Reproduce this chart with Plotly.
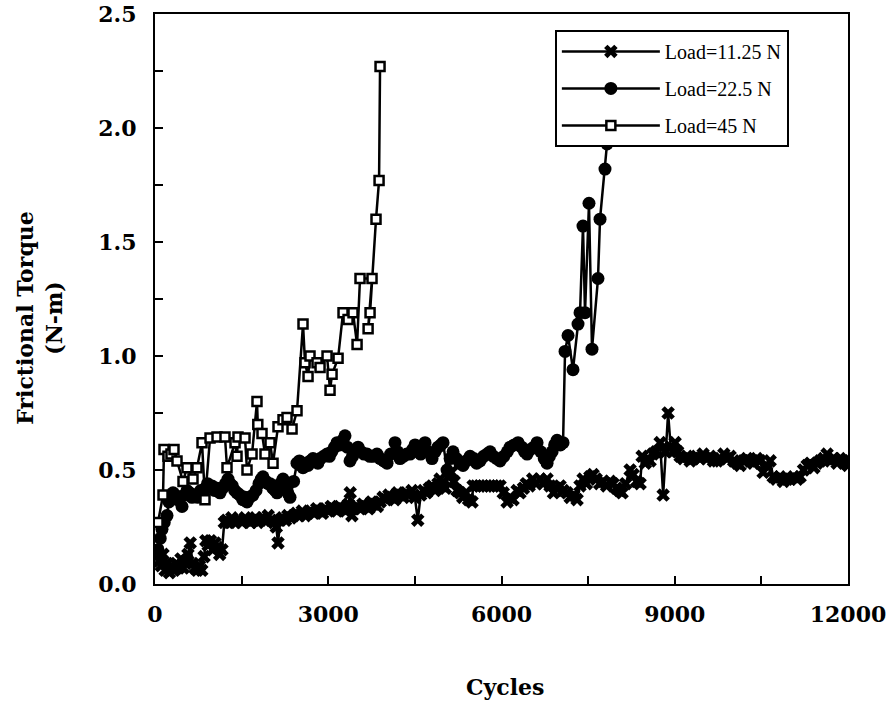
import plotly.graph_objects as go

# ---- data ----
cyc_1125 = [35, 70, 105, 139, 175, 210, 250, 290, 330, 370, 410, 450, 490, 530, 570, 610, 650, 690, 730,
            770, 810, 850, 880, 920, 960, 1000, 1040, 1080, 1120, 1160, 1200,
            1240, 1290, 1330, 1380, 1420, 1470, 1510, 1560, 1600, 1650, 1690, 1740, 1780, 1830, 1870,
            1920, 1960, 2010, 2060, 2100, 2130, 2170,
            2210, 2260, 2300, 2350, 2400, 2450, 2500, 2550, 2600, 2650, 2700, 2750, 2800, 2850, 2900,
            2950, 3000, 3050, 3100, 3150, 3200, 3250, 3300, 3350, 3380, 3410, 3450, 3500,
            3550, 3600, 3650, 3700, 3750, 3800, 3850, 3900, 3950, 4000, 4050, 4100, 4150, 4200, 4250,
            4300, 4350, 4400, 4450, 4500, 4550, 4600,
            4650, 4700, 4750, 4800, 4850, 4900, 4936, 4980, 5030, 5080, 5130, 5180, 5230, 5283, 5330,
            5380, 5430, 5490, 5508, 5560, 5620, 5680, 5740, 5800, 5860, 5920, 5975, 6030, 6097, 6150,
            6200, 6270, 6320, 6380, 6430, 6480, 6540, 6600, 6668, 6720, 6789, 6840, 6900, 6950, 7014,
            7070, 7135, 7190, 7250, 7309, 7360, 7413, 7470, 7530, 7586, 7640, 7700, 7759, 7820, 7880,
            7932, 7990, 8040, 8088, 8150, 8227, 8280, 8340, 8400, 8435, 8490, 8530, 8573, 8620, 8680,
            8747, 8799, 8840, 8885, 8930, 8970, 9006, 9050, 9093, 9150, 9210, 9266, 9320, 9380, 9440,
            9491, 9550, 9610, 9670, 9734, 9790, 9850, 9900, 9959, 10020, 10080, 10132, 10190, 10250,
            10305, 10360, 10420, 10478, 10530, 10590, 10652, 10704, 10760, 10820, 10880, 10946, 11000,
            11060, 11120, 11171, 11230, 11292, 11350, 11410, 11460, 11517, 11580, 11638, 11700, 11760,
            11811, 11860, 11915, 11960, 12000]
tq_1125 = [0.15, 0.10, 0.08, 0.13, 0.06, 0.09, 0.05, 0.08, 0.06, 0.09, 0.07, 0.11, 0.07, 0.10, 0.13, 0.18,
           0.09, 0.07, 0.06, 0.08, 0.06, 0.12, 0.19, 0.17, 0.19, 0.15, 0.18, 0.16, 0.13, 0.15, 0.27,
           0.28, 0.27, 0.29, 0.27, 0.28, 0.28, 0.27, 0.29, 0.28, 0.27, 0.28, 0.29, 0.27, 0.28, 0.29,
           0.28, 0.30, 0.28, 0.27, 0.25, 0.18, 0.28,
           0.29, 0.28, 0.30, 0.29, 0.30, 0.31, 0.30, 0.32, 0.30, 0.31, 0.32, 0.31, 0.33, 0.32, 0.31,
           0.33, 0.32, 0.34, 0.33, 0.32, 0.34, 0.33, 0.32, 0.35, 0.40, 0.30, 0.33, 0.34,
           0.33, 0.35, 0.34, 0.33, 0.36, 0.35, 0.34, 0.36, 0.38, 0.37, 0.39, 0.38, 0.37, 0.40, 0.39,
           0.38, 0.40, 0.39, 0.41, 0.38, 0.28, 0.39,
           0.41, 0.40, 0.42, 0.43, 0.41, 0.44, 0.46, 0.43, 0.42, 0.47, 0.49, 0.45, 0.41, 0.40, 0.38,
           0.40, 0.37, 0.36, 0.43, 0.43, 0.43, 0.43, 0.43, 0.43, 0.43, 0.43, 0.43, 0.40, 0.36, 0.38,
           0.37, 0.41, 0.40, 0.42, 0.44, 0.43, 0.46, 0.44, 0.46, 0.44, 0.46, 0.43, 0.40, 0.42, 0.43,
           0.41, 0.40, 0.38, 0.39, 0.37, 0.43, 0.46, 0.44, 0.47, 0.48, 0.46, 0.44, 0.45, 0.43, 0.45,
           0.44, 0.42, 0.41, 0.40, 0.44, 0.50, 0.48, 0.45, 0.44, 0.56, 0.53, 0.55, 0.54, 0.57, 0.58,
           0.62, 0.39, 0.58, 0.75, 0.60, 0.58, 0.62, 0.58, 0.56, 0.55, 0.56, 0.54, 0.55, 0.56, 0.55,
           0.57, 0.55, 0.56, 0.54, 0.54, 0.55, 0.57, 0.55, 0.56, 0.54, 0.53, 0.52, 0.54, 0.55,
           0.54, 0.53, 0.55, 0.54, 0.49, 0.52, 0.54, 0.47, 0.46, 0.47, 0.45, 0.46, 0.46,
           0.47, 0.46, 0.47, 0.50, 0.52, 0.53, 0.51, 0.53, 0.54, 0.55, 0.57, 0.54, 0.55,
           0.53, 0.55, 0.54, 0.53, 0.52]

cyc_225 = [52, 90, 121, 160, 208, 240, 270, 312, 350, 390, 430, 468, 510, 554, 600, 640, 690, 740, 790,
           831, 870, 910, 950, 987, 1030, 1080, 1126, 1170, 1220, 1264, 1300, 1340, 1380, 1420, 1470,
           1520, 1560, 1593, 1640, 1697, 1750, 1800, 1840, 1870, 1920, 1960, 1992, 2040, 2080, 2113,
           2170, 2217, 2260, 2300, 2338, 2400, 2459, 2500, 2530, 2563, 2610, 2650, 2690, 2736, 2780,
           2820, 2860, 2920, 2979, 3020, 3060, 3110, 3152, 3200, 3250, 3290, 3330, 3377, 3420, 3470,
           3516, 3570, 3620, 3671, 3720, 3780, 3844, 3900, 3960, 4018, 4080, 4156, 4200, 4243, 4300,
           4360, 4417, 4460, 4503, 4550, 4600, 4640, 4676, 4730, 4797, 4849, 4900, 4950, 4988, 5057,
           5110, 5161, 5220, 5280, 5334, 5390, 5456, 5520, 5570, 5629, 5690, 5750, 5802, 5860, 5920,
           5975, 6040, 6100, 6149, 6220, 6287, 6350, 6400, 6443, 6500, 6560, 6616, 6680, 6740, 6789,
           6830, 6876, 6920, 6962, 7020, 7066,
           7100, 7152, 7238, 7325, 7360, 7411, 7446, 7515, 7567, 7671, 7706, 7792, 7827, 7844, 7879,
           7931]
tq_225 = [0.15, 0.20, 0.24, 0.27, 0.30, 0.36, 0.38, 0.40, 0.39, 0.37, 0.38, 0.34, 0.39, 0.41, 0.40,
          0.38, 0.39, 0.38, 0.41, 0.40, 0.42, 0.44, 0.43, 0.43, 0.41, 0.42, 0.40, 0.42, 0.44, 0.46,
          0.44, 0.43, 0.41, 0.40, 0.39, 0.37, 0.38, 0.36, 0.38, 0.39, 0.41, 0.44, 0.46, 0.47, 0.45,
          0.44, 0.44, 0.42, 0.41, 0.40, 0.44, 0.46, 0.43, 0.40, 0.38, 0.45, 0.53, 0.54, 0.52, 0.51,
          0.53, 0.52, 0.54, 0.55, 0.54, 0.53, 0.55, 0.56, 0.57, 0.56, 0.58, 0.60, 0.62, 0.61, 0.63,
          0.65, 0.60, 0.54, 0.56, 0.58, 0.60, 0.58, 0.57, 0.57, 0.56, 0.56, 0.57, 0.55, 0.54, 0.53,
          0.57, 0.62, 0.58, 0.55, 0.56, 0.57, 0.57, 0.59, 0.61, 0.58, 0.57, 0.59, 0.62, 0.58, 0.55,
          0.58, 0.60, 0.61, 0.62, 0.50, 0.55, 0.58, 0.55, 0.53, 0.52, 0.54, 0.56, 0.55, 0.53, 0.54,
          0.56, 0.57, 0.58, 0.56, 0.55, 0.54, 0.56, 0.58, 0.60, 0.61, 0.62, 0.60, 0.58, 0.57, 0.59,
          0.60, 0.62, 0.58, 0.55, 0.53, 0.56, 0.58, 0.61, 0.63, 0.61, 0.62,
          1.02, 1.09, 0.94, 1.14, 1.19, 1.57, 1.19, 1.67, 1.03, 1.34, 1.60, 1.82, 1.93, 2.09, 2.19,
          2.22]

cyc_45 = [52, 139, 156, 225, 277, 329, 381, 485, 554, 658, 727, 814, 866, 953, 1074, 1212, 1247, 1386,
          1420, 1437, 1559, 1593, 1680, 1766, 1780, 1853, 1905, 1992, 2044, 2130, 2217, 2286, 2373,
          2459, 2563, 2598, 2650, 2684, 2806, 2858, 2979, 3031, 3066, 3170, 3256, 3343, 3429, 3499,
          3550, 3758, 3690, 3724, 3827, 3880, 3897]
tq_45 = [0.27, 0.39, 0.59, 0.56, 0.57, 0.59, 0.54, 0.45, 0.51, 0.46, 0.51, 0.62, 0.37, 0.64, 0.645,
         0.645, 0.51, 0.62, 0.56, 0.645, 0.64, 0.50, 0.57, 0.80, 0.70, 0.66, 0.57, 0.62, 0.53, 0.69,
         0.72, 0.73, 0.68, 0.76, 1.14, 0.97, 0.91, 1.00, 0.97, 0.95, 1.00, 0.85, 0.92, 0.99, 1.19,
         1.16, 1.19, 1.05, 1.34, 1.34, 1.12, 1.19, 1.60, 1.77, 2.27]

names = ["Load=11.25 N", "Load=22.5 N", "Load=45 N"]
x_ticks = [0, 3000, 6000, 9000, 12000]
y_ticks = [0.0, 0.5, 1.0, 1.5, 2.0, 2.5]

BOLD = "DejaVu Serif, Liberation Serif, serif"
SERIF = "Liberation Serif, Times New Roman, serif"

fig = go.Figure()
fig.add_trace(go.Scatter(x=cyc_1125, y=tq_1125, name=names[0], mode="lines+markers", legendgroup="a",
                         line=dict(color="black", width=2.5),
                         marker=dict(symbol="x", size=12, color="black", line=dict(width=0))))
fig.add_trace(go.Scatter(x=cyc_225, y=tq_225, name=names[1], mode="lines+markers", legendgroup="b",
                         line=dict(color="black", width=2.5),
                         marker=dict(symbol="circle", size=13, color="black")))
fig.add_trace(go.Scatter(x=cyc_45, y=tq_45, name=names[2], mode="lines+markers", legendgroup="c",
                         line=dict(color="black", width=2.5),
                         marker=dict(symbol="square", size=9, color="white",
                                     line=dict(color="black", width=2.5))))

axis_common = dict(showgrid=False, zeroline=False, showline=True, linecolor="black", linewidth=2,
                   mirror=True, ticks="inside", ticklen=8, tickwidth=2, tickcolor="black",
                   automargin=False,
                   tickfont=dict(family=BOLD, size=22, color="black", weight="bold"))

fig.update_xaxes(range=[0, 12000], tickvals=x_ticks, ticktext=[str(v) for v in x_ticks],
                 minor=dict(dtick=1500, tick0=0, ticks="inside", ticklen=8, tickwidth=2, tickcolor="black"),
                 ticklabelstandoff=10, **axis_common)
fig.update_yaxes(range=[0, 2.5], tickvals=y_ticks, ticktext=[f"{v:.1f}" for v in y_ticks],
                 minor=dict(dtick=0.25, tick0=0, ticks="inside", ticklen=8, tickwidth=2, tickcolor="black"),
                 ticklabelstandoff=12, **axis_common)

fig.add_annotation(text="<b>Frictional Torque<br>(N-m)</b>", xref="paper", yref="paper",
                   x=-0.166, y=0.467, textangle=-90, showarrow=False,
                   font=dict(family=BOLD, size=22, color="black"), xanchor="center", yanchor="middle")
fig.add_annotation(text="<b>Cycles</b>", xref="paper", yref="paper", x=0.505, y=-0.181,
                   showarrow=False, font=dict(family=BOLD, size=22, color="black"),
                   xanchor="center", yanchor="middle")

fig.update_layout(
    width=892, height=704,
    margin=dict(l=155, r=44, t=14, b=120, autoexpand=False),
    paper_bgcolor="white", plot_bgcolor="white",
    showlegend=True,
    legend=dict(x=0.577, y=0.972, xanchor="left", yanchor="top",
                bgcolor="white", bordercolor="black", borderwidth=2,
                font=dict(family=SERIF, size=20, color="black"),
                itemwidth=98, tracegroupgap=8, traceorder="grouped"),
)

fig.write_html("out.html")
